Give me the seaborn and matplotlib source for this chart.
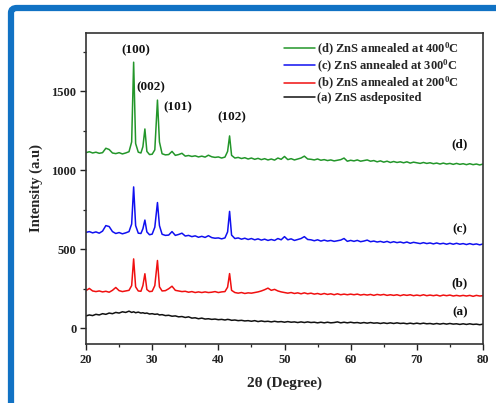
import matplotlib
matplotlib.use("Agg")
import matplotlib.pyplot as plt
import matplotlib.patches as mpatches
from matplotlib.ticker import MultipleLocator
import seaborn as sns
import pandas as pd

# ---------------- data ----------------
two_theta = [20.0, 20.5, 21.0, 21.5, 22.0, 22.5, 23.0, 23.5, 24.0, 24.5, 25.0, 25.5, 26.0, 26.5,
             26.9, 27.2, 27.5, 27.9, 28.3, 28.6, 28.9, 29.2, 29.6, 30.0, 30.4, 30.8, 31.1, 31.5,
             32.0, 32.5, 33.0, 33.5, 34.0, 34.5, 35.0, 35.5, 36.0, 36.5, 37.0, 37.5, 38.0, 38.5,
             39.0, 39.5, 40.0, 40.5, 41.0,
             41.4, 41.7, 42.0,
             42.5, 43.0, 43.5, 44.0, 44.5, 45.0, 45.5, 46.0, 46.5, 47.0, 47.5, 48.0, 48.5, 49.0, 49.5,
             50.0, 50.5, 51.0, 51.5, 52.0, 52.5, 53.0, 53.5, 54.0, 54.5, 55.0, 55.5, 56.0, 56.5, 57.0,
             57.5, 58.0, 58.5, 59.0, 59.5,
             60.0, 60.5, 61.0, 61.5, 62.0, 62.5, 63.0, 63.5, 64.0, 64.5, 65.0, 65.5, 66.0, 66.5, 67.0,
             67.5, 68.0, 68.5, 69.0, 69.5,
             70.0, 70.5, 71.0, 71.5, 72.0, 72.5, 73.0, 73.5, 74.0, 74.5, 75.0, 75.5, 76.0, 76.5, 77.0,
             77.5, 78.0, 78.5, 79.0, 79.5, 80.0]

int_d = [1112, 1118, 1110, 1115, 1108, 1112, 1140, 1132, 1110, 1106, 1112, 1104, 1110, 1118,
         1180, 1685, 1170, 1115, 1110, 1150, 1262, 1120, 1100, 1102, 1130, 1445, 1180, 1105,
         1098, 1100, 1120, 1095, 1100, 1108, 1090, 1094, 1088, 1092, 1085, 1090, 1084, 1096,
         1086, 1082, 1085, 1078, 1084,
         1120, 1218, 1095,
         1078, 1082, 1075, 1080, 1072, 1078, 1070, 1076, 1068, 1074, 1066, 1072, 1065, 1078, 1070,
         1088, 1068, 1074, 1066, 1072, 1078, 1090, 1072, 1070, 1066, 1072, 1064, 1068, 1062, 1066,
         1060, 1064, 1068, 1078, 1058,
         1064, 1060, 1066, 1058, 1062, 1066, 1058, 1062, 1054, 1060, 1052, 1058, 1050, 1056, 1050,
         1054, 1048, 1054, 1046, 1052,
         1048, 1044, 1050, 1044, 1048, 1042, 1046, 1040, 1046, 1040, 1044, 1038, 1044, 1038, 1042,
         1036, 1042, 1036, 1040, 1034, 1040]

int_c = [607, 612, 604, 610, 602, 615, 650, 644, 612, 600, 606, 598, 604, 612,
         660, 895, 650, 602, 600, 630, 685, 610, 592, 596, 640, 796, 650, 595,
         588, 590, 612, 588, 594, 602, 584, 588, 580, 585, 576, 582, 575, 586,
         574, 570, 572, 566, 572,
         610, 740, 590,
         568, 572, 564, 570, 562, 568, 560, 566, 558, 564, 556, 562, 556, 568, 560,
         580, 560, 566, 556, 562, 568, 580, 562, 560, 554, 560, 552, 558, 552, 556,
         550, 554, 558, 568, 550,
         556, 550, 556, 548, 552, 558, 548, 552, 546, 550, 544, 550, 542, 548, 542,
         546, 540, 546, 538, 544,
         540, 536, 542, 536, 540, 534, 540, 534, 538, 532, 538, 532, 538, 532, 536,
         530, 536, 530, 534, 528, 534]

int_b = [238, 252, 236, 232, 236, 230, 234, 228, 240, 258, 238, 232, 236, 240,
         270, 439, 262, 236, 234, 270, 345, 245, 232, 234, 270, 429, 262, 236,
         238, 250, 266, 240, 236, 232, 234, 228, 232, 226, 230, 226, 230, 226,
         228, 232, 226, 230, 232,
         260, 346, 240,
         226, 222, 226, 220, 224, 222, 226, 230, 236, 244, 254, 240, 246, 236, 230,
         226, 222, 226, 220, 224, 218, 224, 218, 222, 216, 220, 214, 220, 214, 218,
         212, 218, 212, 216, 212,
         216, 212, 216, 210, 214, 210, 214, 208, 214, 210, 214, 208, 212, 208, 212,
         206, 212, 208, 212, 206,
         210, 206, 212, 206, 210, 206, 210, 204, 210, 206, 210, 204, 208, 204, 208,
         204, 208, 202, 208, 204, 206]

int_a = [78, 84, 80, 88, 84, 92, 88, 96, 92, 100, 96, 104, 100, 108,
         100, 104, 98, 102, 96, 98, 94, 96, 90, 92, 88, 90, 84, 86,
         80, 82, 76, 78, 72, 74, 68, 72, 64, 66, 60, 64, 58, 60,
         56, 58, 54, 56, 52,
         56, 54, 50,
         52, 48, 50, 46, 48, 44, 48, 42, 46, 42, 44, 40, 44, 40, 42,
         38, 42, 38, 40, 36, 40, 36, 40, 36, 38, 34, 38, 34, 38, 34,
         36, 40, 34, 38, 34,
         38, 34, 36, 32, 36, 32, 36, 32, 34, 30, 34, 30, 34, 30, 34,
         30, 32, 28, 32, 28,
         32, 28, 32, 28, 30, 26, 30, 26, 30, 26, 30, 26, 28, 24, 28,
         24, 28, 24, 26, 22, 26]

series_names = ["(d) ZnS annealed at 400$^\\mathbf{0}$C",
                "(c) ZnS annealed at 300$^\\mathbf{0}$C",
                "(b) ZnS annealed at 200$^\\mathbf{0}$C",
                "(a) ZnS asdeposited"]
series_colors = ["#23962a", "#1010f0", "#f01010", "#111111"]

peak_labels = ["(100)", "(002)", "(101)", "(102)"]
peak_label_x = [27.5, 29.8, 33.9, 42.1]
peak_label_y = [1760, 1525, 1398, 1338]

curve_labels = ["(d)", "(c)", "(b)", "(a)"]
curve_label_x = [76.5, 76.5, 76.5, 76.5]
curve_label_y = [1163, 624, 284, 99]

x_ticks = [20, 30, 40, 50, 60, 70, 80]
y_ticks = [0, 500, 1000, 1500]

# ---------------- build table ----------------
frames = []
for name, vals in zip(series_names, [int_d, int_c, int_b, int_a]):
    assert len(vals) == len(two_theta)
    frames.append(pd.DataFrame({"two_theta": two_theta, "intensity": vals, "sample": name}))
df = pd.concat(frames, ignore_index=True)

# ---------------- style ----------------
sns.set_style("ticks")
plt.rcParams["font.family"] = ["Liberation Serif", "DejaVu Serif"]
plt.rcParams["font.weight"] = "bold"
plt.rcParams["mathtext.fontset"] = "custom"
plt.rcParams["mathtext.rm"] = "Liberation Serif:bold"
plt.rcParams["mathtext.bf"] = "Liberation Serif:bold"
plt.rcParams["mathtext.it"] = "Liberation Serif:bold:italic"

fig = plt.figure(figsize=(4.96, 4.03), dpi=100)
fig.patch.set_facecolor("white")
ax = fig.add_axes([86 / 496, 1 - 344 / 403, (483 - 86) / 496, (344 - 33) / 403])

sns.lineplot(data=df, x="two_theta", y="intensity", hue="sample",
             hue_order=series_names, palette=series_colors,
             estimator=None, sort=False, linewidth=1.1, ax=ax)

ax.set_xlim(20, 80)
ax.set_ylim(-100, 1870)
ax.set_xticks(x_ticks)
ax.set_yticks(y_ticks)
ax.xaxis.set_minor_locator(MultipleLocator(5))
ax.yaxis.set_minor_locator(MultipleLocator(250))
ax.tick_params(axis="both", which="major", direction="out", length=4, width=1.0,
               labelsize=9, colors="#222222", pad=3)
ax.tick_params(axis="both", which="minor", direction="out", length=2.5, width=0.9)
for lab in ax.get_xticklabels() + ax.get_yticklabels():
    lab.set_fontweight("bold")
for sp in ax.spines.values():
    sp.set_visible(True)
    sp.set_linewidth(1.2)
    sp.set_color("#333333")

ax.set_xlabel("2θ (Degree)", fontsize=11, fontweight="bold", labelpad=8)
ax.set_ylabel("Intensity (a.u)", fontsize=10.5, fontweight="bold", labelpad=6)

for t, xx, yy in zip(peak_labels, peak_label_x, peak_label_y):
    ax.text(xx, yy, t, ha="center", va="center", fontsize=9.5, fontweight="bold", color="#111111")
for t, xx, yy in zip(curve_labels, curve_label_x, curve_label_y):
    ax.text(xx, yy, t, ha="center", va="center", fontsize=9.5, fontweight="bold", color="#111111")

leg = ax.legend(loc="upper left", bbox_to_anchor=(0.48, 1.0), frameon=False,
                fontsize=9, handlelength=2.5, handletextpad=0.1,
                labelspacing=0.02, borderaxespad=0.2)
for line in leg.get_lines():
    line.set_linewidth(1.1)
for txt in leg.get_texts():
    txt.set_fontweight("bold")

# blue frame around the figure (as in the screenshot)
frame = mpatches.FancyBboxPatch((11 / 496, -0.2), 1.5, 0.2 + (1 - 8 / 403),
                                boxstyle="round,pad=0,rounding_size=0.012",
                                transform=fig.transFigure, fill=False,
                                edgecolor="#1172c4", linewidth=4.5, clip_on=False)
fig.patches.append(frame)

fig.savefig("out.png", dpi=100, facecolor="white")
